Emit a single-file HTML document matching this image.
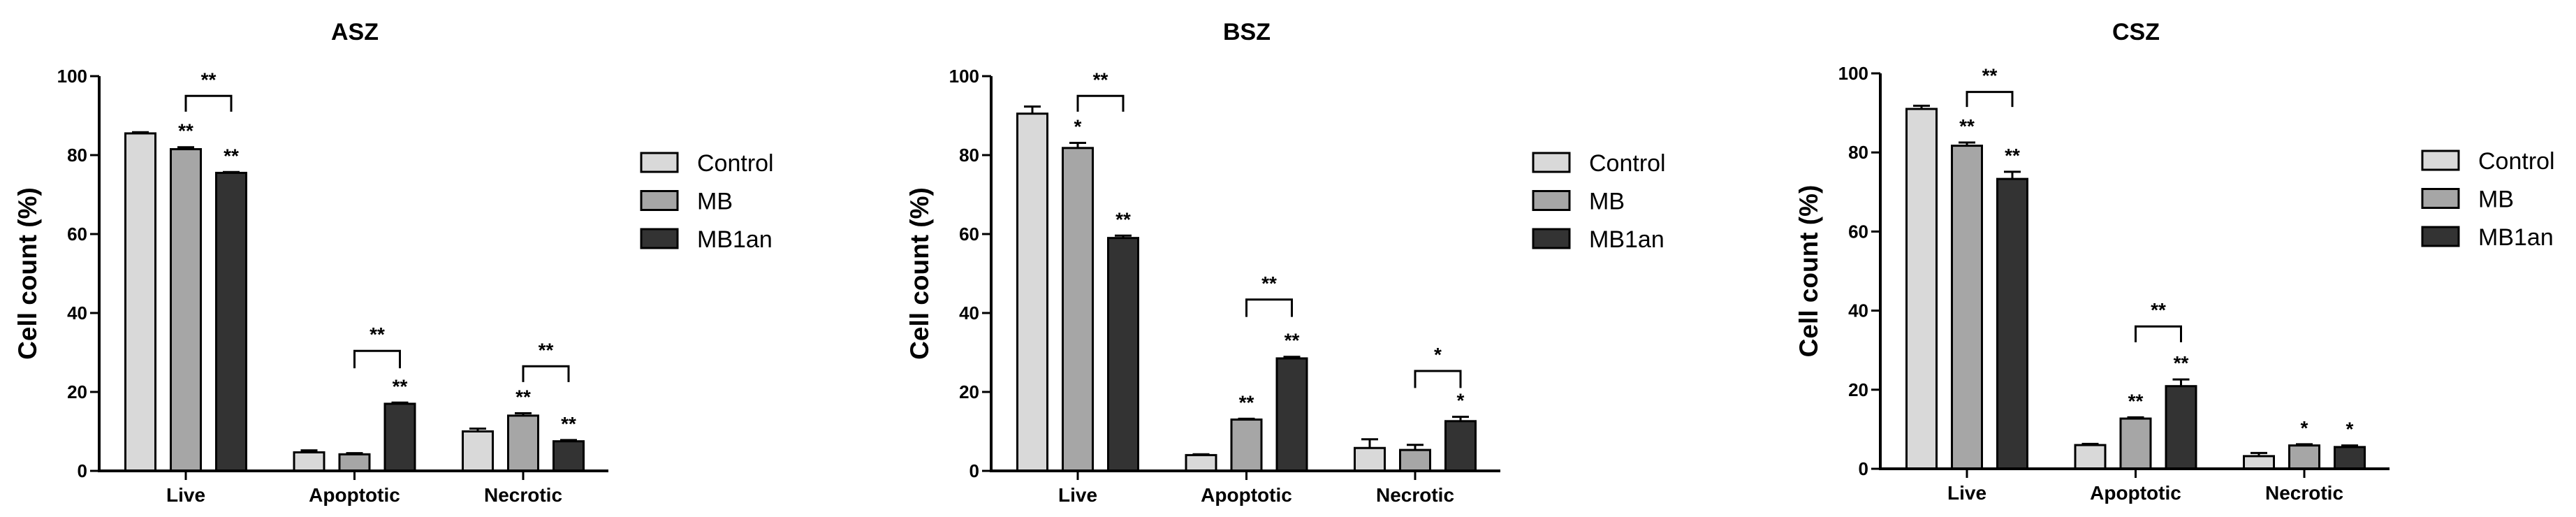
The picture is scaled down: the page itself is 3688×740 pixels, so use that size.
<!DOCTYPE html>
<html><head><meta charset="utf-8"><style>
html,body{margin:0;padding:0;background:#fff;}
svg{display:block;font-family:"Liberation Sans",Arial,sans-serif;}
</style></head><body>
<svg id="chart" width="3688" height="740" viewBox="0 0 3688 740" xmlns="http://www.w3.org/2000/svg"></svg>
<script>
const panelTitles = ["ASZ","BSZ","CSZ"];
const categories = ["Live","Apoptotic","Necrotic"];
const seriesNames = ["Control","MB","MB1an"];
const yTicks = [0,20,40,60,80,100];
const tickLabels = ["0","20","40","60","80","100"];
const aControl = [85.5, 4.7, 10.0];
const aMB      = [81.5, 4.2, 14.0];
const aMB1an   = [75.5, 17.0, 7.5];
const aControlErr = [0.3, 0.5, 0.7];
const aMBErr      = [0.5, 0.3, 0.6];
const aMB1anErr   = [0.2, 0.3, 0.3];
const bControl = [90.5, 4.0, 5.8];
const bMB      = [81.8, 13.0, 5.3];
const bMB1an   = [59.0, 28.5, 12.6];
const bControlErr = [1.8, 0.2, 2.2];
const bMBErr      = [1.3, 0.2, 1.3];
const bMB1anErr   = [0.6, 0.4, 1.1];
const cControl = [91.0, 6.0, 3.2];
const cMB      = [81.7, 12.7, 5.9];
const cMB1an   = [73.3, 20.9, 5.5];
const cControlErr = [0.8, 0.3, 0.8];
const cMBErr      = [0.8, 0.3, 0.3];
const cMB1anErr   = [1.8, 1.7, 0.4];
const aStars = [["**","**"],["","**"],["**","**"]];
const bStars = [["*","**"],["**","**"],["","*"]];
const cStars = [["**","**"],["**","**"],["*","*"]];
const aBrackets = [["**",95,91],["**",30.4,26],["**",26.5,22.5]];
const bBrackets = [["**",95,91],["**",43.4,39],["*",25.3,21]];
const cBrackets = [["**",95.3,91.5],["**",36,32],null];

const panels = [
 {title:panelTitles[0], vals:[aControl,aMB,aMB1an], errs:[aControlErr,aMBErr,aMB1anErr], stars:aStars, br:aBrackets, ox:0, y0:674, y100:109},
 {title:panelTitles[1], vals:[bControl,bMB,bMB1an], errs:[bControlErr,bMBErr,bMB1anErr], stars:bStars, br:bBrackets, ox:1277, y0:674, y100:109},
 {title:panelTitles[2], vals:[cControl,cMB,cMB1an], errs:[cControlErr,cMBErr,cMB1anErr], stars:cStars, br:cBrackets, ox:2550, y0:671, y100:105}
];
const fills = ["#d9d9d9","#a6a6a6","#333333"];
const NS = "http://www.w3.org/2000/svg";
const svg = document.getElementById("chart");
function mk(tag, attrs, parent, text){
  const e = document.createElementNS(NS, tag);
  for (const k in attrs) e.setAttribute(k, attrs[k]);
  if (text !== undefined) e.textContent = text;
  (parent||svg).appendChild(e);
  return e;
}
panels.forEach((p, pi) => {
  const g = mk("g", {});
  
  
  const axX = 142 + p.ox, axEnd = 871 + p.ox;
  const yScale = v => p.y0 - (p.y0 - p.y100) * v / 100;
  const groupX = i => axX + 124 + i * 241.5;
  const barX = (i, s) => groupX(i) + (s - 1) * 65;
  const bw = 43;
  const t = mk("text", {x: 508 + p.ox, y: 57, "text-anchor":"middle", "font-size":34, "font-weight":"bold"}, g, p.title);
  
  
  const yt = mk("text", {x:0, y:0, transform:`translate(${52 + p.ox},${(p.y0+p.y100)/2}) rotate(-90)`, "text-anchor":"middle", "font-size":37, "font-weight":"bold"}, g, "Cell count (%)");
  
  
  yTicks.forEach((v, k) => {
    const y = yScale(v);
    mk("line", {x1:axX-13, x2:axX, y1:y, y2:y, stroke:"#000", "stroke-width":3}, g);
    const tl = mk("text", {x:axX-17, y:y+9, "text-anchor":"end", "font-size":26, "font-weight":"bold"}, g, tickLabels[k]);
    
    
  });
  p.vals.forEach((arr, s) => {
    arr.forEach((v, i) => {
      const cx = barX(i, s);
      const top = yScale(v), etop = yScale(v + p.errs[s][i]);
      mk("line", {x1:cx, x2:cx, y1:top, y2:etop, stroke:"#000", "stroke-width":3}, g);
      mk("line", {x1:cx-12, x2:cx+12, y1:etop, y2:etop, stroke:"#000", "stroke-width":3}, g);
      const r = mk("rect", {x:cx-bw/2, y:top, width:bw, height:p.y0-top, fill:fills[s], stroke:"#000", "stroke-width":3}, g);
      
      
      if (s > 0) {
        const st = p.stars[i][s-1];
        if (st) {
          const sl = mk("text", {x:cx, y:etop - 14, "text-anchor":"middle", "font-size":28, "font-weight":"bold"}, g, st);
          
          
        }
      }
    });
  });
  p.br.forEach((b, i) => {
    if (!b) return;
    const x1 = barX(i,1), x2 = barX(i,2), yt2 = yScale(b[1]), yb = yScale(b[2]);
    const pl = mk("polyline", {points:`${x1},${yb} ${x1},${yt2} ${x2},${yt2} ${x2},${yb}`, fill:"none", stroke:"#000", "stroke-width":3}, g);
    
    
    const bl = mk("text", {x:(x1+x2)/2, y:yt2-14, "text-anchor":"middle", "font-size":28, "font-weight":"bold"}, g, b[0]);
    
    
  });
  mk("line", {x1:axX, x2:axX, y1:p.y100, y2:p.y0+1.5, stroke:"#000", "stroke-width":4}, g);
  mk("line", {x1:axX-2, x2:axEnd, y1:p.y0, y2:p.y0, stroke:"#000", "stroke-width":4}, g);
  categories.forEach((c, i) => {
    const x = groupX(i);
    mk("line", {x1:x, x2:x, y1:p.y0, y2:p.y0+13, stroke:"#000", "stroke-width":3}, g);
    const cl = mk("text", {x:x, y:p.y0+44, "text-anchor":"middle", "font-size":28, "font-weight":"bold"}, g, c);
    
    
  });
  seriesNames.forEach((n, s) => {
    const ly = 219 + s * 54.5 + (pi===2 ? -3 : 0);
    const lx = 918 + p.ox;
    const lr = mk("rect", {x:lx, y:ly, width:52, height:27, fill:fills[s], stroke:"#000", "stroke-width":3}, g);
    
    
    const lt = mk("text", {x:lx+80, y:ly+26, "font-size":34}, g, n);
    
    
  });
});
</script>
</body></html>
